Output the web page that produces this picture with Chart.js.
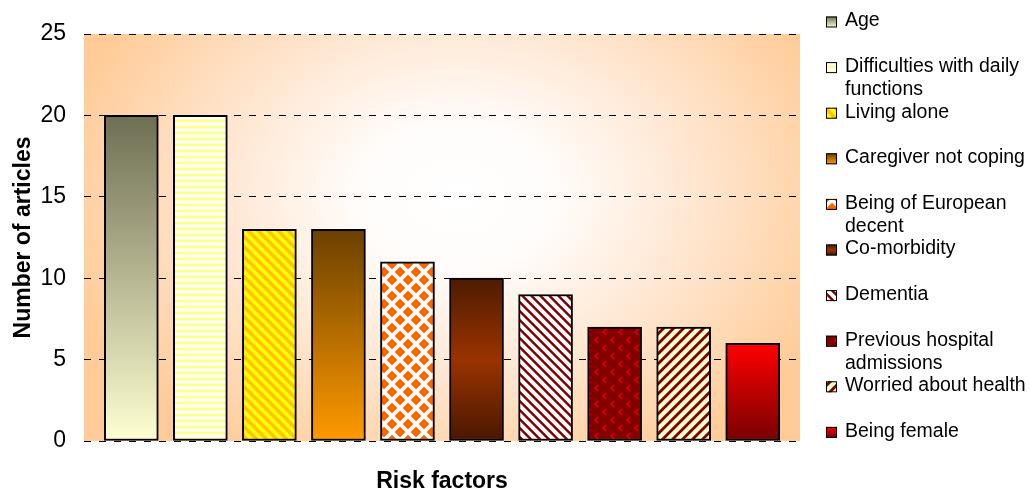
<!DOCTYPE html>
<html>
<head>
<meta charset="utf-8">
<title>Risk factors</title>
<script src="https://cdn.jsdelivr.net/npm/chart.js@4.4.0/dist/chart.umd.min.js"></script>
<style>
  html, body { margin: 0; padding: 0; background: #ffffff; }
  #wrap { width: 1030px; height: 492px; }
</style>
</head>
<body>
<div id="wrap"><canvas id="myChart" width="1030" height="492"></canvas></div>
<script>
// risk factors and how many articles reported each one
var categories = ['Age', 'Difficulties with daily functions', 'Living alone', 'Caregiver not coping',
	'Being of European decent', 'Co-morbidity', 'Dementia', 'Previous hospital admissions',
	'Worried about health', 'Being female'];
var articles = [20, 20, 13, 13, 11, 10, 9, 7, 7, 6];
var yTicks = [0, 5, 10, 15, 20, 25];

var FONT = "'Liberation Sans', Arial, sans-serif";

// small repeating tile, each pixel blended between two colours (4x4 supersampled)
function shadeTile(w, h, colA, colB, inA) {
	var c = document.createElement('canvas');
	c.width = w; c.height = h;
	var g = c.getContext('2d');
	var img = g.createImageData(w, h);
	for (var y = 0; y < h; y++) {
		for (var x = 0; x < w; x++) {
			var cov = 0;
			for (var sy = 0; sy < 4; sy++)
				for (var sx = 0; sx < 4; sx++)
					if (inA(x + (sx + 0.5) / 4, y + (sy + 0.5) / 4)) cov++;
			cov /= 16;
			var i = (y * w + x) * 4;
			for (var k = 0; k < 3; k++) img.data[i + k] = Math.round(colA[k] * cov + colB[k] * (1 - cov));
			img.data[i + 3] = 255;
		}
	}
	g.putImageData(img, 0, 0);
	return c;
}

function mod(a, n) { return ((a % n) + n) % n; }

var pctx = document.createElement('canvas').getContext('2d');
function pattern(tile) { return pctx.createPattern(tile, 'repeat'); }

// horizontal yellow / white lines
var tileLines = (function () {
	var c = document.createElement('canvas');
	c.width = 1; c.height = 6;
	var g = c.getContext('2d');
	var rows = ['#ffff8f', '#ffff8f', '#ffffc8', '#ffffff', '#ffffff', '#ffffc8'];
	rows.forEach(function (col, i) { g.fillStyle = col; g.fillRect(0, i, 1, 1); });
	return c;
})();

// previous admissions: dark red with small red chevrons
var tileChevron = (function () {
	var c = document.createElement('canvas');
	c.width = 16; c.height = 16;
	var g = c.getContext('2d');
	g.fillStyle = '#820000';
	g.fillRect(0, 0, 16, 16);
	g.strokeStyle = '#e80000';
	g.lineWidth = 1.4;
	[[3, 4], [11, 12]].forEach(function (p) {
		g.beginPath();
		g.moveTo(p[0] + 3.5, p[1] - 3);
		g.lineTo(p[0], p[1]);
		g.lineTo(p[0] + 3.5, p[1] + 3);
		g.stroke();
	});
	return c;
})();

// orange diamonds on white, rows offset by half a step
function inDiamond(x, y) {
	var r = 5.3;
	return Math.abs(x - 8) + Math.abs(y - 8) < r ||
		Math.min(x, 16 - x) + Math.min(y, 16 - y) < r;
}

var fills = [
	{ stops: [[0, '#6e6e54'], [1, '#ffffd2']] },
	{ pattern: pattern(tileLines) },
	{ pattern: pattern(shadeTile(10, 10, [255, 255, 0], [255, 196, 0], function (x, y) { return mod(x - y, 10) < 5; })) },
	{ stops: [[0, '#6b4000'], [1, '#ff9a00']] },
	{ pattern: pattern(shadeTile(16, 16, [255, 102, 0], [255, 255, 255], inDiamond)) },
	{ stops: [[0, '#4e1b00'], [0.5, '#9a3300'], [1, '#4a1700']] },
	{ pattern: pattern(shadeTile(9, 9, [128, 0, 0], [255, 255, 255], function (x, y) { return mod(x - y, 9) < 3.5; })) },
	{ pattern: pattern(tileChevron) },
	{ pattern: pattern(shadeTile(10, 10, [128, 0, 0], [255, 255, 204], function (x, y) { return mod(x + y, 10) < 4; })) },
	{ stops: [[0, '#ff0000'], [1, '#780000']] }
];

function vGradient(ctx, top, bottom, stops) {
	var g = ctx.createLinearGradient(0, top, 0, bottom);
	stops.forEach(function (s) { g.addColorStop(s[0], s[1]); });
	return g;
}

function barFill(context) {
	var f = fills[context.dataIndex];
	if (!f) return '#ccc';
	if (f.pattern) return f.pattern;
	var chart = context.chart;
	if (!chart.chartArea) return f.stops[0][1];
	var y = chart.scales.y;
	return vGradient(chart.ctx, y.getPixelForValue(articles[context.dataIndex]), y.getPixelForValue(0), f.stops);
}

// peach plot area, whitening towards the middle
var plotBackground = {
	id: 'plotBackground',
	beforeDraw: function (chart) {
		var a = chart.chartArea, ctx = chart.ctx;
		var w = a.right - a.left, h = a.bottom - a.top;
		var cx = a.left + w * 0.52, cy = a.top + h * 0.40;
		var rx = w * 0.56, ry = h * 0.74;
		ctx.save();
		ctx.beginPath();
		ctx.rect(a.left, a.top, w, h);
		ctx.clip();
		ctx.translate(cx, cy);
		ctx.scale(1, ry / rx);
		var g = ctx.createRadialGradient(0, 0, 0, 0, 0, rx);
		g.addColorStop(0, '#ffffff');
		g.addColorStop(0.25, '#fffcfa');
		g.addColorStop(0.6, '#ffe6d0');
		g.addColorStop(1, '#ffcc99');
		ctx.fillStyle = g;
		ctx.fillRect(a.left - cx, (a.top - cy) * rx / ry, w, h * rx / ry);
		ctx.restore();
	}
};

function wrapText(ctx, text, maxWidth) {
	var words = text.split(' '), lines = [], line = '';
	words.forEach(function (w) {
		var test = line ? line + ' ' + w : w;
		if (line && ctx.measureText(test).width > maxWidth) {
			lines.push(line);
			line = w;
		} else {
			line = test;
		}
	});
	lines.push(line);
	return lines;
}

// legend on the right, one row per risk factor
var sideLegend = {
	id: 'sideLegend',
	afterDraw: function (chart) {
		var ctx = chart.ctx;
		var x0 = 826, tx = 845, y0 = 21, step = 45.6, lh = 23.5;
		ctx.save();
		ctx.font = '19.5px ' + FONT;
		ctx.textBaseline = 'middle';
		ctx.textAlign = 'left';
		categories.forEach(function (name, i) {
			var cy = y0 + i * step;
			var f = fills[i];
			ctx.fillStyle = f.pattern ? f.pattern : vGradient(ctx, cy - 4.5, cy + 6.5, f.stops);
			ctx.fillRect(x0, cy - 4.5, 11, 11);
			ctx.strokeStyle = '#000';
			ctx.lineWidth = 1;
			ctx.strokeRect(x0 + 0.5, cy - 4, 10, 10);
			ctx.fillStyle = '#000';
			wrapText(ctx, name, 184).forEach(function (line, k) {
				ctx.fillText(line, tx, cy + k * lh);
			});
		});
		ctx.restore();
	}
};

var points = articles.map(function (v, i) { return { x: i, y: v }; });

var ctx = document.getElementById('myChart').getContext('2d');
var chart_main = new Chart(ctx, {
	type: 'bar',
	data: {
		datasets: [{
			label: 'Number of articles',
			data: points,
			backgroundColor: barFill,
			borderColor: '#000000',
			borderWidth: 2,
			borderSkipped: false,
			barThickness: 54
		}]
	},
	options: {
		responsive: false,
		animation: false,
		events: [],
		layout: { padding: { top: 34, right: 230, bottom: 0, left: 0 } },
		plugins: {
			legend: { display: false },
			tooltip: { enabled: false }
		},
		scales: {
			x: {
				type: 'linear',
				min: -0.685,
				max: 9.685,
				offset: false,
				ticks: { display: false },
				grid: { display: false },
				border: { display: false },
				title: {
					display: true,
					text: 'Risk factors',
					color: '#000',
					font: { family: FONT, size: 23, weight: 'bold', lineHeight: 1 },
					padding: { top: 0, bottom: -1 }
				},
				afterFit: function (scale) { scale.height = 51; }
			},
			y: {
				min: 0,
				max: 25,
				afterBuildTicks: function (scale) {
					scale.ticks = yTicks.map(function (v) { return { value: v }; });
				},
				ticks: {
					color: '#000',
					padding: 18,
					font: { family: FONT, size: 23 }
				},
				grid: {
					color: '#000',
					lineWidth: 1,
					drawTicks: false,
					tickBorderDash: []
				},
				border: { display: false, dash: [7, 8] },
				title: {
					display: true,
					text: 'Number of articles',
					color: '#000',
					font: { family: FONT, size: 23, weight: 'bold', lineHeight: 1 },
					padding: { top: 12, bottom: 0 }
				},
				afterFit: function (scale) { scale.width = 84; }
			}
		}
	},
	plugins: [plotBackground, sideLegend]
});
</script>
</body>
</html>
